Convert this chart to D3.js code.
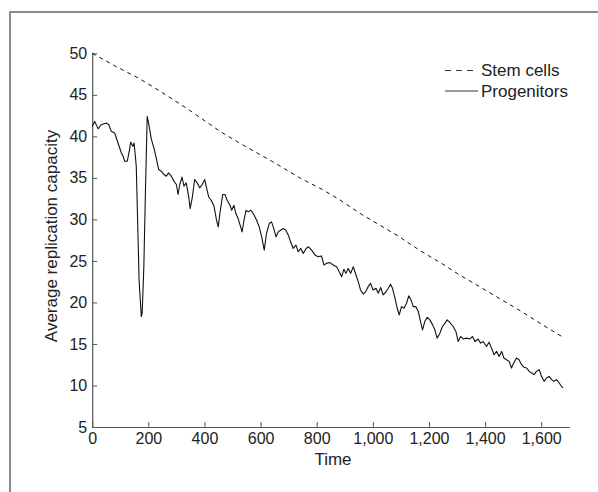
<!DOCTYPE html>
<html>
<head>
<meta charset="utf-8">
<script src="https://cdn.jsdelivr.net/npm/d3@7"></script>
<style>
  body { margin: 0; background: #fff; }
  text { font-family: "Liberation Sans", Arial, Helvetica, sans-serif; }
</style>
</head>
<body>
<div id="graph"></div>
<script>
// values
const stemTime = [0, 80, 160, 220, 340, 460, 540, 640, 740, 820, 880, 960, 1000, 1090, 1170, 1250, 1300, 1350, 1410, 1530, 1600, 1678];
const stemValue = [50.0, 48.5, 47.1, 45.9, 43.3, 40.5, 38.9, 37.0, 35.0, 33.6, 32.4, 30.6, 29.8, 28.0, 26.2, 24.6, 23.5, 22.5, 21.3, 18.9, 17.4, 15.8];

const progTime = [0, 9, 21, 32, 50, 59, 68, 80, 92, 98, 104, 110, 116, 125, 133, 137, 145, 149, 151, 157, 163, 167, 175, 178, 184, 189, 196, 201, 211, 220, 228, 237, 246, 256, 264, 272, 282, 291, 300, 306, 312, 320, 327, 335, 344, 349, 357, 365, 374, 383, 392, 401, 406, 415, 424, 434, 443, 449, 455, 465, 473, 481, 491, 497, 505, 512, 520, 529, 534, 541, 548, 556, 565, 574, 586, 595, 604, 613, 621, 631, 639, 645, 655, 663, 671, 681, 690, 699, 707, 716, 726, 734, 743, 752, 762, 771, 782, 794, 805, 817, 826, 835, 847, 859, 871, 880, 889, 897, 904, 912, 921, 930, 940, 948, 956, 966, 975, 983, 992, 1001, 1011, 1019, 1028, 1037, 1047, 1055, 1063, 1070, 1079, 1087, 1094, 1102, 1111, 1120, 1128, 1136, 1144, 1153, 1162, 1170, 1177, 1185, 1194, 1203, 1213, 1221, 1229, 1239, 1248, 1257, 1265, 1274, 1286, 1296, 1304, 1313, 1322, 1334, 1346, 1355, 1364, 1375, 1384, 1393, 1405, 1414, 1423, 1432, 1441, 1450, 1459, 1467, 1476, 1486, 1494, 1502, 1512, 1521, 1530, 1538, 1548, 1557, 1566, 1574, 1583, 1593, 1601, 1610, 1619, 1628, 1637, 1645, 1655, 1664, 1672, 1678];
const progValue = [41.2, 41.8, 40.9, 41.4, 41.6, 41.4, 40.6, 40.4, 39.2, 38.6, 38.0, 37.6, 37.0, 37.0, 38.4, 39.3, 38.8, 39.2, 38.6, 36.4, 28.3, 22.7, 18.3, 18.7, 24.3, 32.3, 42.4, 41.6, 39.6, 38.6, 37.4, 36.0, 35.8, 35.4, 35.2, 35.6, 35.2, 34.6, 34.2, 33.0, 34.2, 35.1, 34.0, 34.4, 32.7, 31.3, 32.7, 34.8, 34.4, 33.8, 34.2, 34.8, 34.0, 32.7, 32.3, 31.6, 29.9, 29.1, 30.7, 33.0, 33.0, 32.3, 31.7, 31.1, 31.7, 30.7, 30.1, 29.1, 28.5, 29.9, 31.1, 30.9, 31.1, 30.7, 29.9, 29.1, 27.9, 26.3, 28.3, 29.5, 29.7, 29.1, 27.9, 28.5, 28.7, 28.9, 28.7, 28.1, 27.3, 26.5, 26.9, 26.1, 26.5, 25.9, 26.5, 26.7, 26.3, 25.7, 25.5, 25.6, 24.5, 24.7, 24.8, 24.5, 24.3, 23.7, 23.1, 24.0, 23.5, 24.1, 23.5, 24.3, 23.3, 22.5, 21.5, 21.0, 21.3, 21.9, 22.3, 21.5, 21.7, 21.1, 21.8, 20.9, 21.3, 21.7, 22.2, 21.7, 20.5, 19.3, 18.5, 19.5, 19.3, 19.9, 20.8, 20.3, 19.5, 19.5, 18.9, 17.7, 16.7, 17.7, 18.2, 17.9, 17.3, 16.7, 15.7, 16.3, 17.1, 17.5, 17.9, 17.6, 17.1, 16.5, 15.3, 15.9, 15.6, 15.7, 15.6, 15.9, 15.3, 15.6, 15.1, 15.3, 14.7, 15.2, 14.5, 13.7, 14.1, 13.5, 14.1, 13.3, 13.1, 12.9, 12.1, 12.7, 13.3, 13.1, 12.5, 12.2, 12.1, 11.7, 11.5, 11.3, 11.7, 11.9, 11.1, 10.5, 10.9, 11.1, 10.7, 10.5, 10.7, 10.3, 9.9, 9.7];

const xTicks = [0, 200, 400, 600, 800, 1000, 1200, 1400, 1600];
const yTicks = [5, 10, 15, 20, 25, 30, 35, 40, 45, 50];
const seriesNames = ["Stem cells", "Progenitors"];

const W = 598, H = 492;

let svg = d3.select("#graph")
    .append("svg")
    .attr("width", W)
    .attr("height", H);

// grey frame round the figure
svg.append("rect")
    .attr("x", 10)
    .attr("y", 12)
    .attr("width", 620)
    .attr("height", 520)
    .attr("fill", "none")
    .attr("stroke", "#8c8c8c")
    .attr("stroke-width", 2);

let x = d3.scaleLinear()
    .domain([0, 1700])
    .range([92.2, 569.3]);

let y = d3.scaleLinear()
    .domain([5, 50])
    .range([427, 53.3]);

// X axis
let gx = svg.append("g")
    .attr("transform", "translate(0," + y(5) + ")")
    .call(d3.axisBottom(x)
        .tickValues(xTicks)
        .tickFormat(d3.format(","))
        .tickSizeInner(-5)
        .tickSizeOuter(0)
        .tickPadding(6));

// Y axis
let gy = svg.append("g")
    .attr("transform", "translate(" + x(0) + ",0)")
    .call(d3.axisLeft(y)
        .tickValues(yTicks)
        .tickSizeInner(-5)
        .tickSizeOuter(0)
        .tickPadding(5));

[gx, gy].forEach((g) => {
    g.select(".domain").attr("stroke", "#555").attr("stroke-width", 1.2);
    g.selectAll(".tick line").attr("stroke", "#555");
    g.selectAll(".tick text")
        .attr("fill", "#222")
        .attr("font-size", "16px")
        .style("font-family", "'Liberation Sans', Arial, sans-serif");
});

svg.append("text")
    .attr("x", 333)
    .attr("y", 465)
    .attr("text-anchor", "middle")
    .attr("font-size", "17px")
    .attr("fill", "#222")
    .text("Time");

svg.append("text")
    .attr("transform", "translate(57,236) rotate(-90)")
    .attr("text-anchor", "middle")
    .attr("font-size", "17px")
    .attr("fill", "#222")
    .text("Average replication capacity");

let line = d3.line()
    .x((d) => x(d[0]))
    .y((d) => y(d[1]));

// Stem cells (dashed)
svg.append("path")
    .datum(stemTime.map((t, i) => [t, stemValue[i]]))
    .attr("d", line)
    .attr("fill", "none")
    .attr("stroke", "#111")
    .attr("stroke-width", 1)
    .attr("stroke-dasharray", "4,4");

// Progenitors (solid)
svg.append("path")
    .datum(progTime.map((t, i) => [t, progValue[i]]))
    .attr("d", line)
    .attr("fill", "none")
    .attr("stroke", "#111")
    .attr("stroke-width", 1.1)
    .attr("stroke-linejoin", "round");

// Legend
let legend = svg.append("g");
seriesNames.forEach((name, i) => {
    let ly = 70.5 + i * 20.5;
    legend.append("line")
        .attr("x1", 445)
        .attr("x2", 478)
        .attr("y1", ly)
        .attr("y2", ly)
        .attr("stroke", "#333")
        .attr("stroke-width", 1)
        .attr("stroke-dasharray", i === 0 ? "6,5" : null);
    legend.append("text")
        .attr("x", 481)
        .attr("y", ly)
        .attr("dy", "0.35em")
        .attr("font-size", "17px")
        .attr("fill", "#222")
        .text(name);
});
</script>
</body>
</html>
